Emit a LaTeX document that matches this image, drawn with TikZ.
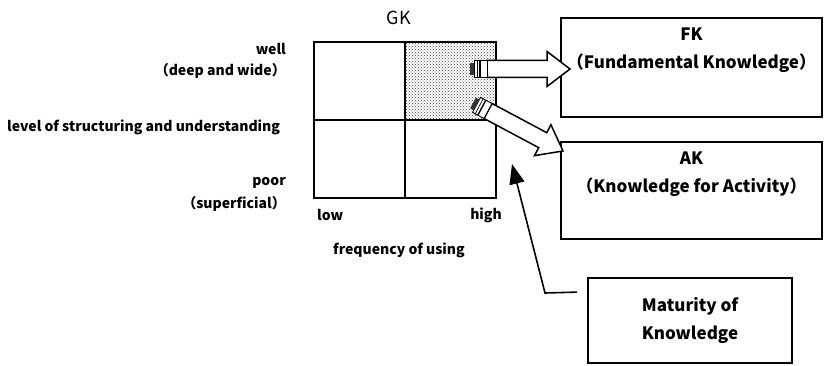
\documentclass[tikz,border=0pt]{standalone}
\usepackage{fontspec}
\setmainfont{Noto Sans CJK JP}
\usetikzlibrary{positioning, arrows.meta, calc, patterns}

\tikzset{
    lbl/.style={font=\fontsize{14}{16}\selectfont\bfseries, inner sep=0pt},
    ktext/.style={font=\fontsize{17}{28}\selectfont\bfseries, align=center, inner sep=0pt},
    kbox/.style={draw, line width=1.8pt, minimum width=261pt, inner sep=0pt},
    gridline/.style={line width=1.8pt},
    matarrow/.style={-{Triangle[length=20pt, width=15pt]}, line width=1.6pt},
    blockarrow/.style={draw, fill=white, line width=1.5pt, line join=miter,
        to path={let \p1=($(\tikztotarget)!23pt!(\tikztostart)$) in
            ($(\tikztostart)!8.5pt!90:(\tikztotarget)$)
            -- ($(\p1)!8.5pt!90:(\tikztotarget)$)
            -- ($(\p1)!17.5pt!90:(\tikztotarget)$)
            -- (\tikztotarget)
            -- ($(\p1)!17.5pt!-90:(\tikztotarget)$)
            -- ($(\p1)!8.5pt!-90:(\tikztotarget)$)
            -- ($(\tikztostart)!8.5pt!-90:(\tikztotarget)$)
            -- cycle}},
    tubeend/.pic={
        \draw[line width=0.9pt, fill=white] (-13,-8.5) rectangle (0,8.5);
        \draw[line width=1.4pt] (-7,-8.5) -- (-7,8.5);
        \draw[line width=0.7pt] (-10,-8.5) -- (-10,8.5);
        \fill[black!80] (-17,-6) rectangle (-13,6);
    },
}

\begin{document}
\begin{tikzpicture}[x=1pt, y=-1pt]
\useasboundingbox (0,0) rectangle (829,366);

% GK grid
\node[minimum width=182pt, minimum height=156pt, inner sep=0pt] (gk) at (405,120) {};
\fill[pattern=crosshatch dots, pattern color=black!75] (gk.north) rectangle (gk.east);
\draw[gridline] (gk.north west) rectangle (gk.south east);
\draw[gridline] (gk.north) -- (gk.south);
\draw[gridline] (gk.west) -- (gk.east);
\node[font=\fontsize{18}{20}\selectfont, above=14pt of gk, xshift=-6pt] (gktitle) {GK};

% axis labels
\node[lbl, anchor=east] (well) at (286,49) {well};
\node[lbl, anchor=east] (deep) at (286,71) {（deep and wide）};
\node[lbl, anchor=west] (level) at (7,127) {level of structuring and understanding};
\node[lbl, anchor=east] (poor) at (286,183) {poor};
\node[lbl, anchor=east] (superf) at (286,204) {（superficial）};
\node[lbl, anchor=west] (low) at (317,215) {low};
\node[lbl, anchor=east] (high) at (502,215) {high};
\node[lbl] (freq) at (399,250) {frequency of using};

% knowledge boxes
\node[kbox, minimum height=99pt] (fk) at (691.5,67.5) {};
\node[ktext, below=11pt of fk.north] (fktext) {FK\\（Fundamental Knowledge）};
\node[kbox, minimum height=97pt] (ak) at (691.5,190.5) {};
\node[ktext, below=11pt of ak.north] (aktext) {AK\\（Knowledge for Activity）};
\node[kbox, minimum width=204pt, minimum height=85pt, ktext] (mat) at (690,320.5) {Maturity of\\Knowledge};

% block arrows
\coordinate (fkTail) at (487,69);
\coordinate (fkTip) at (570,69);
\coordinate (akTail) at (488,111);
\coordinate (akTip) at (563,151);
\draw[blockarrow] (fkTail) to (fkTip);
\draw[blockarrow] (akTail) to (akTip);
\pic at (fkTail) {tubeend};
\pic[rotate=-28] at (akTail) {tubeend};

% maturity arrow
\coordinate (matStart) at ($(mat.north west)+(-10,15)$);
\coordinate (matBend) at (545,293);
\coordinate (matTip) at (512,164);
\draw[matarrow] (matStart) -- (matBend) -- (matTip);

\end{tikzpicture}
\end{document}
